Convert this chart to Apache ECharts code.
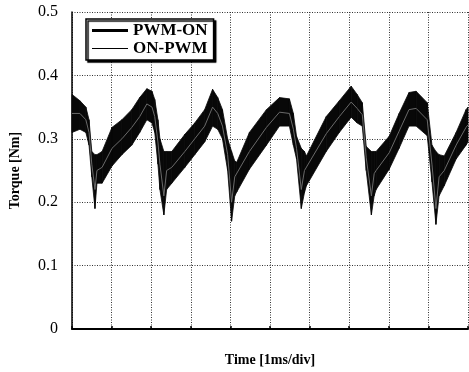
<!DOCTYPE html>
<html>
<head>
<meta charset="utf-8">
<script src="https://cdn.jsdelivr.net/npm/echarts@6/dist/echarts.min.js"></script>
<style>
html,body{margin:0;padding:0;background:#fff;}
#chart{width:469px;height:372px;}
</style>
</head>
<body>
<div id="chart"></div>
<script>
// Time in divisions (1 ms/div)
var time = [0,0.20,0.35,0.43,0.50,0.58,0.63,0.76,1.01,1.26,1.51,1.71,1.89,2.02,2.09,2.17,2.22,2.32,2.39,2.52,
            2.85,3.10,3.35,3.55,3.68,3.80,3.93,4.03,4.11,4.16,4.48,4.91,5.24,5.49,5.59,5.67,5.79,5.87,5.92,6.42,
            6.75,7.05,7.20,7.33,7.43,7.56,7.63,7.68,8.01,8.26,8.51,8.69,8.97,9.09,9.19,9.27,9.40,9.70,9.95,10.0];
// PWM-ON ripple band: upper and lower envelope (Nm)
var pwmOnUpper = [0.37,0.36,0.35,0.33,0.28,0.275,0.275,0.28,0.318,0.33,0.346,0.365,0.379,0.375,0.362,0.33,0.30,0.28,0.28,0.28,
                  0.307,0.325,0.346,0.378,0.365,0.346,0.30,0.28,0.265,0.263,0.31,0.346,0.365,0.363,0.34,0.304,0.285,0.28,0.273,0.335,
                  0.36,0.383,0.37,0.357,0.288,0.28,0.28,0.28,0.304,0.34,0.373,0.375,0.357,0.29,0.28,0.275,0.273,0.31,0.346,0.35];
var pwmOnLower = [0.31,0.315,0.31,0.29,0.24,0.19,0.23,0.23,0.257,0.275,0.29,0.31,0.33,0.325,0.31,0.26,0.22,0.18,0.22,0.23,
                  0.255,0.275,0.295,0.32,0.315,0.30,0.25,0.17,0.21,0.216,0.252,0.29,0.32,0.32,0.29,0.268,0.19,0.215,0.226,0.28,
                  0.31,0.334,0.325,0.32,0.25,0.18,0.21,0.22,0.252,0.285,0.32,0.32,0.305,0.232,0.165,0.21,0.226,0.268,0.29,0.295];
// ON-PWM trace (Nm)
var onPwm = [0.34,0.34,0.33,0.31,0.26,0.22,0.25,0.255,0.285,0.30,0.318,0.335,0.355,0.35,0.335,0.295,0.26,0.21,0.25,0.255,
             0.28,0.30,0.32,0.35,0.34,0.32,0.275,0.20,0.24,0.24,0.28,0.318,0.342,0.34,0.315,0.285,0.22,0.25,0.25,0.308,
             0.335,0.358,0.348,0.338,0.27,0.21,0.245,0.25,0.278,0.312,0.346,0.348,0.33,0.26,0.19,0.24,0.25,0.29,0.318,0.322];
var yTicks = [0,0.1,0.2,0.3,0.4,0.5];

// band segments: [t0, lo0, hi0, t1, lo1, hi1]
var bandData = [];
for (var i = 0; i < time.length - 1; i++) {
  bandData.push([time[i], pwmOnLower[i], pwmOnUpper[i], time[i+1], pwmOnLower[i+1], pwmOnUpper[i+1]]);
}
var onPwmData = time.map(function(t,i){return [t,onPwm[i]];});

var serif = '"Liberation Serif","DejaVu Serif",serif';
var chart = echarts.init(document.getElementById('chart'), null, {renderer:'canvas'});
chart.setOption({
  animation:false,
  backgroundColor:'#fff',
  grid:{left:72,right:1,top:12,bottom:41,containLabel:false},
  legend:{
    orient:'vertical',left:86,top:19,
    padding:[3,6,3,6],itemGap:1,itemWidth:36,itemHeight:3,
    backgroundColor:'#fff',borderColor:'#000',borderWidth:1.5,
    shadowColor:'#000',shadowOffsetX:2,shadowOffsetY:2,shadowBlur:1,
    textStyle:{fontFamily:serif,fontWeight:'bold',fontSize:17,color:'#000'},
    data:[
      {name:'PWM-ON',icon:'rect',itemStyle:{color:'#000'}},
      {name:'ON-PWM',icon:'path://M0,0M36,3M0,1H36V2H0Z',itemStyle:{color:'#000'}}
    ]
  },
  xAxis:{
    type:'value',min:0,max:10,interval:1,
    name:'Time [1ms/div]',nameLocation:'middle',nameGap:24,
    nameTextStyle:{fontFamily:serif,fontWeight:'bold',fontSize:14,color:'#000'},
    axisLine:{show:true,onZero:false,lineStyle:{color:'#000',width:2}},
    axisTick:{show:true,inside:true,length:3,lineStyle:{color:'#000',width:1.5}},
    axisLabel:{show:false},
    splitLine:{show:true,lineStyle:{color:'#333',type:[1,1.5],width:1}}
  },
  yAxis:{
    type:'value',min:0,max:0.5,interval:0.1,
    name:'Torque [Nm]',nameLocation:'middle',nameGap:50,
    nameTextStyle:{fontFamily:serif,fontWeight:'bold',fontSize:14,color:'#000'},
    axisLine:{show:true,onZero:false,lineStyle:{color:'#000',width:1.5}},
    axisTick:{show:false},
    axisLabel:{margin:14,fontFamily:serif,fontSize:16,color:'#000',
      formatter:function(v){var r=yTicks.reduce(function(a,b){return Math.abs(b-v)<Math.abs(a-v)?b:a;});return r===0?'0':r.toFixed(1);}},
    splitLine:{show:true,lineStyle:{color:'#333',type:[1,1.5],width:1}}
  },
  series:[
    {name:'PWM-ON',type:'custom',color:'#000',data:bandData,z:3,
     encode:{x:[0,3],y:[1,2,4,5]},
     renderItem:function(params, api){
       var p0h = api.coord([api.value(0), api.value(2)]);
       var p1h = api.coord([api.value(3), api.value(5)]);
       var p1l = api.coord([api.value(3), api.value(4)]);
       var p0l = api.coord([api.value(0), api.value(1)]);
       return {type:'polygon',shape:{points:[p0h,p1h,p1l,p0l]},
               style:{fill:'#080808',stroke:'#080808',lineWidth:0.8}};
     }},
    {name:'ON-PWM',type:'line',data:onPwmData,symbol:'none',
     color:'#666',lineStyle:{width:1,color:'#6a6a6a'},z:4}
  ]
});
</script>
</body>
</html>
